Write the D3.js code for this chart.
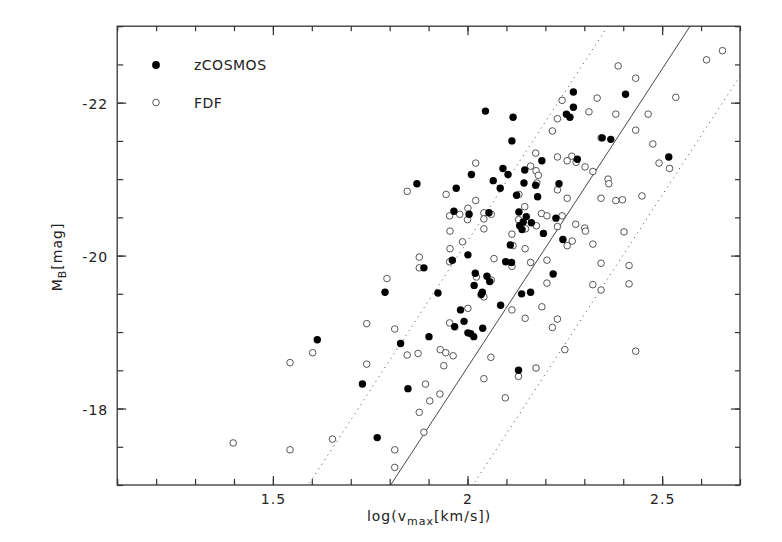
<!DOCTYPE html>
<html>
<meta charset="utf-8">
<title>Tully-Fisher: zCOSMOS and FDF</title>
<script src="https://d3js.org/d3.v7.min.js" charset="utf-8"></script>

<style>
	body {
		margin: 0;
		background: #fff;
	}
	svg text {
		font-family: "DejaVu Sans", sans-serif;
		fill: #222;
	}
	.frame {
		fill: none;
		stroke: #333;
		stroke-width: 1.3;
	}
	.tick line {
		stroke: #333;
		stroke-width: 1.2;
	}
	.fit {
		fill: none;
		stroke: #333;
		stroke-width: 0.9;
	}
	.fit.scatter {
		stroke-dasharray: 1, 4.5;
	}
	.zc {
		fill: #000;
	}
	.fdf {
		fill: #fff;
		stroke: #444;
		stroke-width: 0.9;
	}
</style>
<body>
<script>

	// zCOSMOS (filled): log(vmax) and M_B
	var zcLogV = [2.046, 2.117, 2.114, 2.272, 2.272, 2.254, 2.263, 2.346, 2.368, 2.406,
		2.517, 2.010, 2.091, 2.104, 2.066, 2.084, 2.191, 2.147, 2.145, 2.175,
		2.126, 2.180, 2.282, 2.235, 2.004, 2.055, 2.132, 2.151, 2.143, 2.134,
		2.140, 2.164, 2.227, 2.195, 2.245, 2.110, 1.870, 1.971, 1.965, 1.961,
		2.001, 1.888, 1.788, 1.924, 2.020, 2.017, 2.038, 2.035, 1.982, 1.991,
		1.967, 2.001, 2.008, 2.016, 1.901, 1.614, 1.828, 2.050, 2.057, 2.098,
		2.113, 2.220, 2.139, 2.162, 2.085, 2.039, 2.131, 1.730, 1.847, 1.768];
	var zcMag = [-21.89, -21.81, -21.50, -22.14, -21.94, -21.85, -21.81, -21.54, -21.52, -22.11,
		-21.29, -21.06, -21.14, -21.06, -20.98, -20.88, -21.24, -21.12, -20.95, -20.92,
		-20.79, -20.77, -21.26, -20.94, -20.54, -20.56, -20.57, -20.51, -20.44, -20.39,
		-20.34, -20.43, -20.49, -20.29, -20.21, -20.14, -20.94, -20.88, -20.58, -19.94,
		-20.01, -19.84, -19.52, -19.51, -19.77, -19.61, -19.52, -19.49, -19.29, -19.14,
		-19.07, -18.99, -18.98, -18.94, -18.94, -18.90, -18.85, -19.73, -19.66, -19.92,
		-19.91, -19.76, -19.50, -19.52, -19.35, -19.05, -18.50, -18.32, -18.26, -17.62];

	// FDF (open): log(vmax) and M_B
	var fdfLogV = [2.175, 2.243, 2.231, 2.218, 2.333, 2.312, 2.381, 2.387, 2.343, 2.021,
		2.162, 2.176, 2.182, 2.178, 2.132, 2.231, 2.256, 2.268, 2.279, 2.302,
		2.231, 2.256, 2.361, 2.363, 2.343, 2.381, 2.322, 2.001, 2.021, 2.000,
		1.980, 2.042, 2.042, 2.061, 2.042, 1.987, 2.147, 2.131, 2.177, 2.149,
		2.190, 2.204, 2.243, 2.231, 2.114, 2.256, 2.269, 2.278, 2.301, 2.303,
		2.322, 2.117, 2.148, 1.845, 1.945, 1.954, 1.955, 1.955, 1.954, 1.876,
		1.876, 1.793, 2.023, 2.001, 1.954, 1.741, 1.813, 1.930, 1.602, 1.845,
		1.873, 1.944, 1.963, 1.939, 1.741, 1.892, 1.929, 1.903, 1.876, 1.888,
		1.653, 1.813, 1.813, 2.042, 2.097, 1.544, 1.398, 1.544, 2.068, 2.114,
		2.162, 2.204, 2.343, 2.415, 2.415, 2.061, 2.042, 2.204, 2.322, 2.343,
		2.114, 2.191, 2.148, 2.231, 2.218, 2.250, 2.432, 2.060, 2.176, 2.131,
		2.464, 2.432, 2.476, 2.492, 2.519, 2.398, 2.448, 2.402, 2.655, 2.614,
		2.432, 2.535];
	var fdfMag = [-21.34, -22.03, -21.79, -21.63, -22.06, -21.88, -21.85, -22.48, -21.54, -21.21,
		-21.17, -21.11, -21.05, -20.95, -20.80, -21.29, -21.24, -21.30, -21.22, -21.16,
		-20.86, -20.75, -21.00, -20.94, -20.75, -20.72, -21.10, -20.62, -20.72, -20.47,
		-20.54, -20.56, -20.48, -20.54, -20.35, -20.18, -20.64, -20.47, -20.39, -20.35,
		-20.55, -20.52, -20.52, -20.38, -20.28, -20.13, -20.19, -20.41, -20.36, -20.32,
		-20.15, -20.13, -20.09, -20.84, -20.80, -20.52, -20.32, -20.09, -19.92, -19.98,
		-19.84, -19.70, -19.72, -19.31, -19.12, -19.11, -19.04, -18.77, -18.73, -18.70,
		-18.72, -18.73, -18.69, -18.56, -18.58, -18.32, -18.19, -18.10, -17.95, -17.69,
		-17.60, -17.46, -17.23, -18.39, -18.14, -18.60, -17.55, -17.46, -19.96, -19.86,
		-19.91, -19.94, -19.90, -19.87, -19.63, -19.68, -19.46, -19.64, -19.62, -19.55,
		-19.29, -19.33, -19.18, -19.17, -19.06, -18.77, -18.75, -18.67, -18.53, -18.42,
		-21.85, -21.64, -21.46, -21.21, -21.14, -20.73, -20.78, -20.31, -22.68, -22.56,
		-22.32, -22.07];

	// fitted relation M = zero + slope * log(v), dotted lines at +/- scatter
	var tfZero = -2.94, tfSlope = -7.8, tfScatter = 1.65;

	var xLabels = [1.5, 2, 2.5];
	var yLabels = [-22, -20, -18];
	var legendNames = ["zCOSMOS", "FDF"];

	var width = 782, height = 542;
	var margin = {top: 26.2, right: 42, bottom: 57, left: 117.2};

	var x = d3.scaleLinear().domain([1.1, 2.7]).range([margin.left, width - margin.right]);
	var y = d3.scaleLinear().domain([-17, -23]).range([height - margin.bottom, margin.top]);

	var svg = d3.select("body").append("svg")
		.attr("width", width)
		.attr("height", height);

	svg.append("clipPath")
		.attr("id", "plot-clip")
		.append("rect")
			.attr("x", x.range()[0])
			.attr("y", y.range()[1])
			.attr("width", x.range()[1] - x.range()[0])
			.attr("height", y.range()[0] - y.range()[1]);

	/* ticks: inward on all four sides, minor ones unlabelled */
	function noLabel() { return ""; }
	function fmt(d) { return d < 0 ? "-" + Math.abs(d) : String(d); }

	var xMinor = x.ticks(16), yMinor = y.ticks(12);

	svg.append("g").attr("transform", "translate(0," + y.range()[0] + ")")
		.call(d3.axisBottom(x).tickValues(xMinor).tickSize(-6).tickSizeOuter(0).tickFormat(noLabel));
	svg.append("g").attr("transform", "translate(0," + y.range()[0] + ")")
		.call(d3.axisBottom(x).tickValues(xLabels).tickSize(-9).tickSizeOuter(0).tickPadding(9).tickFormat(fmt));
	svg.append("g").attr("transform", "translate(0," + y.range()[1] + ")")
		.call(d3.axisTop(x).tickValues(xMinor).tickSize(-5).tickSizeOuter(0).tickFormat(noLabel));
	svg.append("g").attr("transform", "translate(0," + y.range()[1] + ")")
		.call(d3.axisTop(x).tickValues(xLabels).tickSize(-9).tickSizeOuter(0).tickFormat(noLabel));

	svg.append("g").attr("transform", "translate(" + x.range()[0] + ",0)")
		.call(d3.axisLeft(y).tickValues(yMinor).tickSize(-6).tickSizeOuter(0).tickFormat(noLabel));
	svg.append("g").attr("transform", "translate(" + x.range()[0] + ",0)")
		.call(d3.axisLeft(y).tickValues(yLabels).tickSize(-9).tickSizeOuter(0).tickPadding(9).tickFormat(fmt));
	svg.append("g").attr("transform", "translate(" + x.range()[1] + ",0)")
		.call(d3.axisRight(y).tickValues(yMinor).tickSize(-5).tickSizeOuter(0).tickFormat(noLabel));
	svg.append("g").attr("transform", "translate(" + x.range()[1] + ",0)")
		.call(d3.axisRight(y).tickValues(yLabels).tickSize(-9).tickSizeOuter(0).tickFormat(noLabel));

	svg.selectAll(".domain").remove();
	svg.selectAll(".tick text")
		.attr("font-family", null)
		.attr("font-size", null)
		.style("font-size", "14px")
		.style("letter-spacing", "1px");
	svg.selectAll(".tick text").filter(function() { return this.getAttribute("dy") === "0.32em"; })
		.attr("dy", "0.4em");

	svg.append("rect")
		.attr("class", "frame")
		.attr("x", x.range()[0])
		.attr("y", y.range()[1])
		.attr("width", x.range()[1] - x.range()[0])
		.attr("height", y.range()[0] - y.range()[1]);

	/* relation and scatter lines */
	var fits = [
		{off: 0, cls: "fit"},
		{off: -tfScatter, cls: "fit scatter"},
		{off: tfScatter, cls: "fit scatter"}
	];
	var line = d3.line()
		.x(function(d) { return x(d[0]); })
		.y(function(d) { return y(d[1]); });

	svg.append("g")
		.attr("clip-path", "url(#plot-clip)")
		.selectAll("path")
		.data(fits)
		.enter().append("path")
			.attr("class", function(d) { return d.cls; })
			.attr("d", function(d) {
				return line(x.domain().map(function(v) { return [v, tfZero + d.off + tfSlope * v]; }));
			});

	/* data points */
	var fdf = fdfLogV.map(function(v, i) { return {v: v, m: fdfMag[i]}; });
	var zc = zcLogV.map(function(v, i) { return {v: v, m: zcMag[i]}; });

	var pts = svg.append("g").attr("clip-path", "url(#plot-clip)");

	pts.selectAll(".fdf")
		.data(fdf)
		.enter().append("circle")
			.attr("class", "fdf")
			.attr("cx", function(d) { return x(d.v); })
			.attr("cy", function(d) { return y(d.m); })
			.attr("r", 3.3);

	pts.selectAll(".zc")
		.data(zc)
		.enter().append("circle")
			.attr("class", "zc")
			.attr("cx", function(d) { return x(d.v); })
			.attr("cy", function(d) { return y(d.m); })
			.attr("r", 3.7);

	/* legend */
	var legend = svg.selectAll(".legend")
		.data(legendNames)
		.enter().append("g")
			.attr("class", "legend")
			.attr("transform", function(d, i) { return "translate(156," + (65 + i * 37.5) + ")"; });

	legend.append("circle")
		.attr("r", function(d, i) { return i ? 3.3 : 3.9; })
		.attr("class", function(d, i) { return i ? "fdf" : "zc"; });

	legend.append("text")
		.attr("x", 38)
		.attr("dy", "0.36em")
		.style("font-size", "14px")
		.style("letter-spacing", "0.5px")
		.text(function(d) { return d; });

	/* axis titles */
	var xTitle = svg.append("text")
		.attr("x", 429)
		.attr("y", 521)
		.attr("text-anchor", "middle")
		.style("font-size", "14px")
		.style("letter-spacing", "1px");
	xTitle.append("tspan").text("log(v");
	xTitle.append("tspan").attr("dy", 4).style("font-size", "11px").text("max");
	xTitle.append("tspan").attr("dy", -4).text("[km/s])");

	var yTitle = svg.append("text")
		.attr("transform", "translate(62,257)rotate(-90)")
		.attr("text-anchor", "middle")
		.style("font-size", "14px")
		.style("letter-spacing", "1px");
	yTitle.append("tspan").text("M");
	yTitle.append("tspan").attr("dy", 4).style("font-size", "11px").text("B");
	yTitle.append("tspan").attr("dy", -4).text("[mag]");

</script>
</body>
</html>
